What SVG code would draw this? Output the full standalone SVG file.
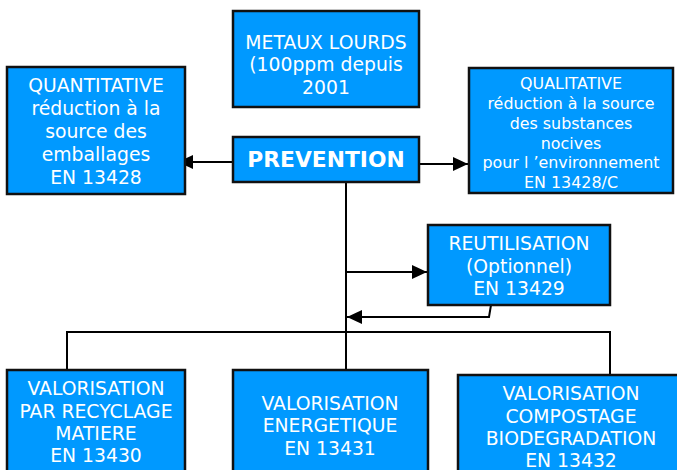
<svg xmlns="http://www.w3.org/2000/svg" width="677" height="470" viewBox="0 0 677 470">
<defs>
<marker id="ah" markerWidth="15" markerHeight="14" refX="15" refY="7" orient="auto" markerUnits="userSpaceOnUse">
<path d="M0,0 L15,7 L0,14 Z" fill="#000"/>
</marker>
<style>
.box{fill:#0099ff;stroke:#111;stroke-width:2.5}
.t{font-family:"DejaVu Sans",Verdana,sans-serif;fill:#fff;text-anchor:middle;font-size:18.8px}
.s{font-size:15.9px}
.b{font-weight:bold;font-size:21.8px}
.c{fill:none;stroke:#000;stroke-width:2}
</style>
</defs>
<rect width="677" height="470" fill="#fff"/>
<g id="connectors">
<line class="c" x1="233" y1="162" x2="178" y2="162" marker-end="url(#ah)"/>
<line class="c" x1="420" y1="164" x2="468" y2="164" marker-end="url(#ah)"/>
<line class="c" x1="346" y1="182" x2="346" y2="370"/>
<line class="c" x1="346" y1="272" x2="427" y2="272" marker-end="url(#ah)"/>
<polyline class="c" points="491,305 489,317 347,317" marker-end="url(#ah)"/>
<polyline class="c" points="67,370 67,332 610,332 610,375"/>
</g>
<g id="metaux">
<rect class="box" x="233" y="11" width="186" height="96"/>
<text class="t" x="326" y="49">METAUX LOURDS</text>
<text class="t" x="326" y="71">(100ppm depuis</text>
<text class="t" x="326" y="94">2001</text>
</g>
<g id="quantitative">
<rect class="box" x="7" y="67" width="178" height="127"/>
<text class="t" x="96" y="92">QUANTITATIVE</text>
<text class="t" x="96" y="115">réduction à la</text>
<text class="t" x="96" y="138">source des</text>
<text class="t" x="96" y="161">emballages</text>
<text class="t" x="96" y="184">EN 13428</text>
</g>
<g id="prevention">
<rect class="box" x="233" y="137" width="186" height="45"/>
<text class="t b" x="326" y="167">PREVENTION</text>
</g>
<g id="qualitative">
<rect class="box" x="469" y="68" width="204" height="125"/>
<text class="t s" x="571" y="89">QUALITATIVE</text>
<text class="t s" x="571" y="109">réduction à la source</text>
<text class="t s" x="571" y="129">des substances</text>
<text class="t s" x="571" y="149">nocives</text>
<text class="t s" x="571" y="168">pour l ’environnement</text>
<text class="t s" x="571" y="188">EN 13428/C</text>
</g>
<g id="reutilisation">
<rect class="box" x="428" y="225" width="182" height="80"/>
<text class="t" x="519" y="250">REUTILISATION</text>
<text class="t" x="519" y="273">(Optionnel)</text>
<text class="t" x="519" y="295">EN 13429</text>
</g>
<g id="recyclage">
<rect class="box" x="7" y="370" width="178" height="110"/>
<text class="t" x="96" y="395">VALORISATION</text>
<text class="t" x="96" y="418">PAR RECYCLAGE</text>
<text class="t" x="96" y="440">MATIERE</text>
<text class="t" x="96" y="462">EN 13430</text>
</g>
<g id="energetique">
<rect class="box" x="233" y="370" width="195" height="110"/>
<text class="t" x="330" y="410">VALORISATION</text>
<text class="t" x="330" y="432">ENERGETIQUE</text>
<text class="t" x="330" y="455">EN 13431</text>
</g>
<g id="compostage">
<rect class="box" x="458" y="375" width="226" height="110"/>
<text class="t" x="571" y="400">VALORISATION</text>
<text class="t" x="571" y="423">COMPOSTAGE</text>
<text class="t" x="571" y="445">BIODEGRADATION</text>
<text class="t" x="571" y="467">EN 13432</text>
</g>
</svg>
